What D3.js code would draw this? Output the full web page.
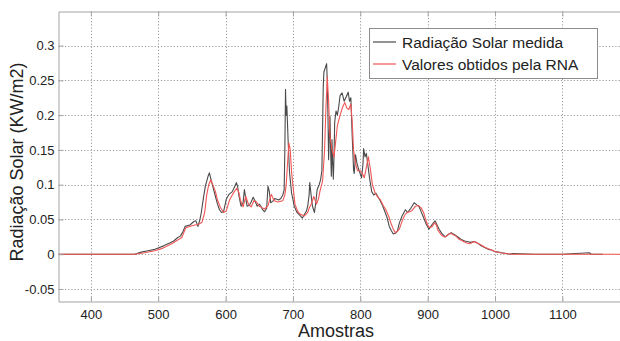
<!DOCTYPE html>
<html>
<head>
<meta charset="utf-8">
<script src="https://cdn.jsdelivr.net/npm/d3@7"></script>
<style>
  html, body { margin: 0; padding: 0; background: #fff; }
  svg { display: block; font-family: "Liberation Sans", Arial, sans-serif; }
</style>
</head>
<body>
<svg id="chart" width="620" height="341"></svg>
<script>
// Measured solar radiation (sample index, kW/m2)
const measuredSamples = [352, 420, 465, 475, 485, 495, 500, 508, 517, 523, 529, 533, 537, 540, 547, 553, 556, 559, 562, 564, 567, 570, 574, 576, 579, 582, 585, 588, 591, 594, 597, 601, 605, 610, 614, 616, 618, 620, 623, 626, 628, 630, 632, 635, 638, 641, 644, 647, 650, 653, 655, 658, 661, 663, 665, 667, 670, 673, 676, 679, 682, 685, 687, 688, 689, 690, 691, 693, 695, 698, 702, 706, 711, 714, 717, 720, 722, 724, 725, 727, 729, 732, 734, 736, 739, 741, 743, 745, 746, 748, 750, 751, 752, 753, 754, 755, 756, 757, 758, 759, 760, 761, 762, 764, 766, 768, 770, 773, 776, 779, 782, 784, 786, 788, 790, 791, 793, 795, 797, 799, 802, 804, 805, 807, 809, 811, 814, 817, 820, 823, 826, 829, 833, 837, 840, 843, 846, 849, 852, 855, 858, 862, 867, 870, 875, 880, 884, 887, 890, 893, 897, 902, 906, 911, 914, 917, 921, 926, 930, 935, 940, 946, 950, 955, 960, 964, 967, 970, 974, 978, 984, 990, 995, 999, 1005, 1010, 1017, 1022, 1026, 1060, 1100, 1140, 1143, 1146, 1160, 1190];
const measuredValues = [0, 0, 0, 0.003, 0.005, 0.007, 0.009, 0.012, 0.016, 0.019, 0.024, 0.026, 0.033, 0.040, 0.042, 0.047, 0.048, 0.040, 0.050, 0.060, 0.080, 0.098, 0.112, 0.117, 0.105, 0.094, 0.083, 0.072, 0.064, 0.060, 0.061, 0.079, 0.086, 0.090, 0.098, 0.103, 0.097, 0.083, 0.069, 0.074, 0.093, 0.080, 0.069, 0.070, 0.075, 0.082, 0.076, 0.069, 0.072, 0.068, 0.064, 0.061, 0.066, 0.098, 0.090, 0.074, 0.076, 0.080, 0.079, 0.078, 0.080, 0.085, 0.093, 0.150, 0.237, 0.200, 0.213, 0.160, 0.117, 0.088, 0.069, 0.060, 0.055, 0.052, 0.057, 0.062, 0.069, 0.085, 0.103, 0.085, 0.069, 0.060, 0.075, 0.093, 0.100, 0.107, 0.120, 0.240, 0.262, 0.268, 0.274, 0.250, 0.200, 0.136, 0.170, 0.198, 0.150, 0.112, 0.165, 0.130, 0.108, 0.140, 0.190, 0.206, 0.200, 0.212, 0.228, 0.232, 0.220, 0.226, 0.233, 0.220, 0.225, 0.170, 0.122, 0.116, 0.143, 0.131, 0.124, 0.118, 0.110, 0.130, 0.152, 0.140, 0.145, 0.130, 0.108, 0.090, 0.085, 0.088, 0.083, 0.078, 0.070, 0.060, 0.052, 0.040, 0.034, 0.029, 0.030, 0.033, 0.045, 0.055, 0.064, 0.060, 0.066, 0.074, 0.071, 0.069, 0.062, 0.055, 0.045, 0.036, 0.042, 0.048, 0.042, 0.036, 0.030, 0.025, 0.028, 0.031, 0.028, 0.024, 0.021, 0.019, 0.018, 0.017, 0.018, 0.018, 0.016, 0.013, 0.010, 0.007, 0.006, 0.004, 0.003, 0.002, 0.001, 0, 0.001, 0, 0, 0.002, 0, 0, 0];

// Values estimated by the neural network (RNA)
const annSamples = [352, 465, 480, 495, 505, 520, 535, 541, 550, 560, 565, 569, 572, 575, 578, 581, 585, 588, 592, 597, 601, 606, 610, 613, 617, 620, 622, 626, 630, 634, 638, 642, 646, 650, 654, 658, 663, 666, 668, 672, 678, 685, 688, 690, 692, 694, 696, 698, 701, 703, 707, 710, 717, 722, 724, 727, 731, 735, 738, 740, 744, 747, 749, 751, 753, 755, 758, 761, 763, 766, 770, 774, 777, 780, 783, 786, 788, 790, 793, 796, 800, 803, 806, 809, 812, 815, 818, 822, 826, 830, 834, 838, 842, 845, 849, 852, 855, 858, 863, 867, 870, 876, 882, 886, 890, 894, 897, 900, 903, 907, 910, 913, 915, 920, 924, 927, 931, 935, 938, 942, 946, 950, 954, 958, 962, 965, 968, 972, 976, 980, 985, 990, 995, 1000, 1008, 1015, 1025, 1190];
const annValues = [0, 0, 0.002, 0.005, 0.008, 0.015, 0.024, 0.038, 0.041, 0.043, 0.046, 0.060, 0.085, 0.100, 0.107, 0.100, 0.090, 0.078, 0.068, 0.060, 0.062, 0.078, 0.085, 0.090, 0.095, 0.088, 0.078, 0.068, 0.083, 0.072, 0.068, 0.077, 0.075, 0.069, 0.067, 0.065, 0.070, 0.080, 0.086, 0.077, 0.075, 0.077, 0.085, 0.100, 0.130, 0.160, 0.150, 0.118, 0.090, 0.072, 0.062, 0.058, 0.055, 0.060, 0.066, 0.072, 0.083, 0.072, 0.080, 0.090, 0.105, 0.150, 0.210, 0.255, 0.220, 0.170, 0.150, 0.140, 0.158, 0.185, 0.200, 0.212, 0.218, 0.210, 0.208, 0.216, 0.190, 0.150, 0.130, 0.120, 0.120, 0.116, 0.110, 0.125, 0.140, 0.122, 0.100, 0.088, 0.082, 0.078, 0.070, 0.064, 0.055, 0.046, 0.036, 0.031, 0.033, 0.036, 0.050, 0.058, 0.060, 0.062, 0.069, 0.070, 0.067, 0.060, 0.050, 0.042, 0.038, 0.040, 0.045, 0.042, 0.035, 0.028, 0.025, 0.025, 0.029, 0.030, 0.028, 0.026, 0.022, 0.020, 0.018, 0.016, 0.015, 0.016, 0.018, 0.017, 0.015, 0.013, 0.010, 0.008, 0.006, 0.004, 0.002, 0.001, 0, 0];

const xTicks = [400, 500, 600, 700, 800, 900, 1000, 1100];
const yTicks = [-0.05, 0, 0.05, 0.1, 0.15, 0.2, 0.25, 0.3];
const yTickLabels = ["-0.05", "0", "0.05", "0.1", "0.15", "0.2", "0.25", "0.3"];
const seriesNames = ["Radiação Solar medida", "Valores obtidos pela RNA"];
const seriesColors = ["#4a4a4a", "#f25555"];

const svg = d3.select("#chart");
const plot = { left: 58.5, top: 11.5, right: 623, bottom: 301.5 };

const x = d3.scaleLinear().domain([352, 1190]).range([plot.left, plot.right]);
const y = d3.scaleLinear().domain([-0.068, 0.349]).range([plot.bottom, plot.top]);

svg.append("defs").append("clipPath").attr("id", "plotClip")
  .append("rect")
  .attr("x", plot.left).attr("y", plot.top)
  .attr("width", plot.right - plot.left).attr("height", plot.bottom - plot.top);

// Dotted grid
const grid = svg.append("g").attr("stroke", "#9a9a9a").attr("stroke-width", 1)
  .attr("stroke-dasharray", "1.2,2");
grid.selectAll("line.gx").data(xTicks).join("line")
  .attr("x1", d => Math.round(x(d)) + 0.5).attr("x2", d => Math.round(x(d)) + 0.5)
  .attr("y1", plot.top).attr("y2", plot.bottom);
grid.selectAll("line.gy").data(yTicks).join("line")
  .attr("y1", d => Math.round(y(d)) + 0.5).attr("y2", d => Math.round(y(d)) + 0.5)
  .attr("x1", plot.left).attr("x2", plot.right);

// Series lines
const line = d3.line().x(d => x(d[0])).y(d => y(d[1]));
const seriesData = [
  d3.zip(measuredSamples, measuredValues),
  d3.zip(annSamples, annValues)
];
const lines = svg.append("g").attr("clip-path", "url(#plotClip)");
lines.selectAll("path").data(seriesData).join("path")
  .attr("d", line)
  .attr("fill", "none")
  .attr("stroke", (d, i) => seriesColors[i])
  .attr("stroke-width", 1.1)
  .attr("stroke-linejoin", "round");

// Axes (frame with inward ticks)
const axisColor = "#a3a3a3";
const xAxis = svg.append("g").attr("transform", `translate(0,${plot.bottom})`)
  .call(d3.axisBottom(x).tickValues(xTicks).tickFormat(d3.format("d"))
    .tickSizeInner(-5).tickSizeOuter(0).tickPadding(8));
const yAxis = svg.append("g").attr("transform", `translate(${plot.left},0)`)
  .call(d3.axisLeft(y).tickValues(yTicks).tickFormat((d, i) => yTickLabels[i])
    .tickSizeInner(-5).tickSizeOuter(0).tickPadding(4));
const xTop = svg.append("g").attr("transform", `translate(0,${plot.top})`)
  .call(d3.axisTop(x).tickValues(xTicks).tickSizeInner(-5).tickSizeOuter(0).tickFormat(""));
[xAxis, yAxis, xTop].forEach(g => {
  g.selectAll(".domain").attr("stroke", axisColor);
  g.selectAll(".tick line").attr("stroke", axisColor);
  g.selectAll(".tick text").attr("fill", "#222").attr("font-size", 13)
    .attr("font-family", "Liberation Sans, Arial, sans-serif");
});

// Axis titles
svg.append("text")
  .attr("x", 336).attr("y", 337)
  .attr("text-anchor", "middle")
  .attr("font-size", 18).attr("fill", "#222")
  .text("Amostras");
svg.append("text")
  .attr("transform", "translate(23,162) rotate(-90)")
  .attr("text-anchor", "middle")
  .attr("font-size", 18).attr("fill", "#222")
  .text("Radiação Solar (KW/m2)");

// Legend
const legend = svg.append("g");
legend.append("rect")
  .attr("x", 369.5).attr("y", 28.5).attr("width", 228).attr("height", 50)
  .attr("fill", "#fff").attr("stroke", "#8c8c8c").attr("stroke-width", 1);
const entries = legend.selectAll("g.entry").data(seriesNames).join("g")
  .attr("transform", (d, i) => `translate(0,${42 + i * 22})`);
entries.append("line")
  .attr("x1", 373).attr("x2", 396).attr("y1", 0).attr("y2", 0)
  .attr("stroke", (d, i) => seriesColors[i]).attr("stroke-width", 1.2);
entries.append("text")
  .attr("x", 402).attr("y", 6)
  .attr("font-size", 15.5).attr("fill", "#222")
  .text(d => d);
</script>
</body>
</html>
